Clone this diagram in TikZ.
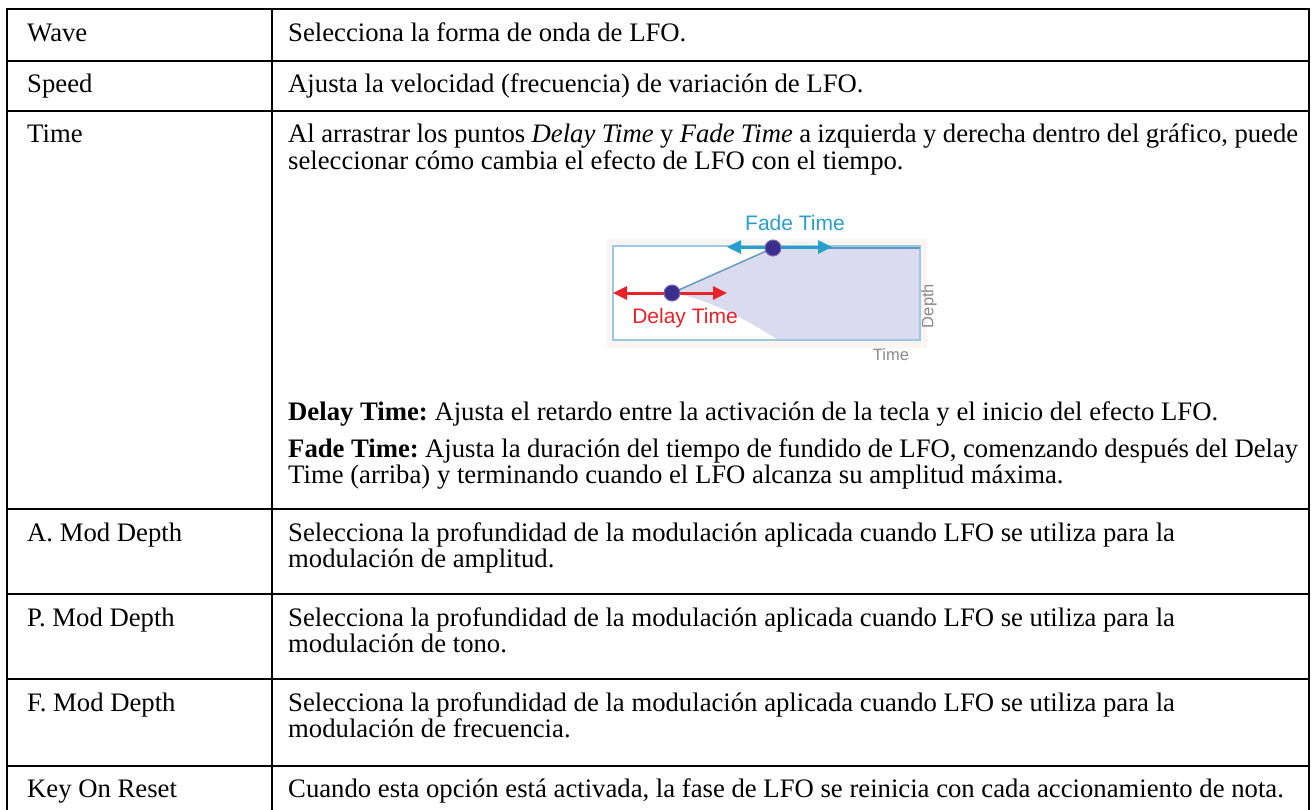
\documentclass[tikz,border=0pt]{standalone}
\usepackage{fontspec}
\setmainfont{Liberation Serif}
\newfontfamily\labelsans{Liberation Sans}
\usetikzlibrary{arrows.meta}
\frenchspacing
\definecolor{delayred}{HTML}{E8232A}
\definecolor{fadeblue}{HTML}{2A9FCE}
\definecolor{boxblue}{HTML}{9CC9DD}
\definecolor{envfill}{HTML}{DADBEE}
\definecolor{envline}{HTML}{6C9DC2}
\definecolor{topline}{HTML}{5A98C6}
\definecolor{dotviolet}{HTML}{3B2E8E}
\definecolor{axisgray}{HTML}{8A8A8A}
\definecolor{glow}{HTML}{FAF4F3}
\begin{document}
\begin{tikzpicture}[x=1pt,y=-1pt,
  rule/.style={line width=2pt, black},
  celltext/.style={anchor=base west, inner sep=0pt, font=\fontsize{26.7}{25}\selectfont},
  envdot/.style={circle, fill=dotviolet, draw=dotviolet!70!white, line width=1pt, minimum size=16pt, inner sep=0pt},
  graphlabel/.style={inner sep=0pt, font=\labelsans\fontsize{21}{24}\selectfont},
  axislabel/.style={inner sep=0pt, text=axisgray, font=\labelsans\fontsize{16.5}{18}\selectfont},
  envtip/.tip={Triangle[length=14pt,width=13pt]}]
\useasboundingbox (0,0) rectangle (1313,810);

% table rules
\draw[rule] (7,810) -- (7,9) -- (1309,9) -- (1309,810);
\draw[rule] (272,9) -- (272,810);
\foreach \yy in {61,111,509,594,679,766}
  \draw[rule] (7,\yy) -- (1309,\yy);

% parameter names
\node[celltext] (wave)  at (27,42)  {Wave};
\node[celltext] (speed) at (27,93)  {Speed};
\node[celltext] (time)  at (27,143) {Time};
\node[celltext] (amod)  at (27,541) {A. Mod Depth};
\node[celltext] (pmod)  at (27,626) {P. Mod Depth};
\node[celltext] (fmod)  at (27,711) {F. Mod Depth};
\node[celltext] (keyon) at (27,797) {Key On Reset};

% descriptions
\node[celltext] (waved)  at (288,42) {Selecciona la forma de onda de LFO.};
\node[celltext] (speedd) at (288,93) {Ajusta la velocidad (frecuencia) de variación de LFO.};
\node[celltext] (timea)  at (288,143) {\makebox[1010pt][s]{Al arrastrar los puntos \textit{Delay Time} y \textit{Fade Time} a izquierda y derecha dentro del gráfico, puede}};
\node[celltext] (timeb)  at (288,170) {seleccionar cómo cambia el efecto de LFO con el tiempo.};
\node[celltext] (delayp) at (288,420) {\textbf{Delay Time:} Ajusta el retardo entre la activación de la tecla y el inicio del efecto LFO.};
\node[celltext] (fadea)  at (288,457) {\makebox[1010pt][s]{\textbf{Fade Time:} Ajusta la duración del tiempo de fundido de LFO, comenzando después del Delay}};
\node[celltext] (fadeb)  at (288,483) {Time (arriba) y terminando cuando el LFO alcanza su amplitud máxima.};
\node[celltext] (amoda)  at (288,541) {Selecciona la profundidad de la modulación aplicada cuando LFO se utiliza para la};
\node[celltext] (amodb)  at (288,567) {modulación de amplitud.};
\node[celltext] (pmoda)  at (288,626) {Selecciona la profundidad de la modulación aplicada cuando LFO se utiliza para la};
\node[celltext] (pmodb)  at (288,652) {modulación de tono.};
\node[celltext] (fmoda)  at (288,711) {Selecciona la profundidad de la modulación aplicada cuando LFO se utiliza para la};
\node[celltext] (fmodb)  at (288,737) {modulación de frecuencia.};
\node[celltext] (keyond) at (288,797) {Cuando esta opción está activada, la fase de LFO se reinicia con cada accionamiento de nota.};

% envelope graphic
\fill[glow] (607,239) rectangle (927,348);
\fill[white] (613,246) rectangle (920,340);
\coordinate (dly) at (672,293);
\coordinate (fde) at (773,248);
\coordinate (topright) at (920,248);
\fill[envfill] (dly) -- (fde) -- (topright) -- (920,340) -- (778,340)
  .. controls (745,318) and (705,298) .. (dly) -- cycle;
\draw[boxblue, line width=1.5pt] (613,246) rectangle (920,340);
\draw[envline, line width=1.6pt] (dly) -- (fde);
\draw[topline, line width=2.2pt] (fde) -- (topright);

\coordinate (dl) at (613,293);
\coordinate (dr) at (727,293);
\coordinate (fl) at (727,247);
\coordinate (fr) at (832,247);
\draw[delayred, line width=3pt, {envtip}-{envtip}] (dl) -- (dr);
\draw[fadeblue, line width=3pt, {envtip}-{envtip}] (fl) -- (fr);
\node[envdot] (dlydot) at (dly) {};
\node[envdot] (fdedot) at (fde) {};

\node[graphlabel, text=delayred] (dlylab) at (685,318) {Delay Time};
\node[graphlabel, text=fadeblue] (fdelab) at (795,223) {Fade Time};
\node[axislabel, rotate=90] (depthlab) at (929,306) {Depth};
\node[axislabel] (timelab) at (891,355) {Time};
\end{tikzpicture}
\end{document}
